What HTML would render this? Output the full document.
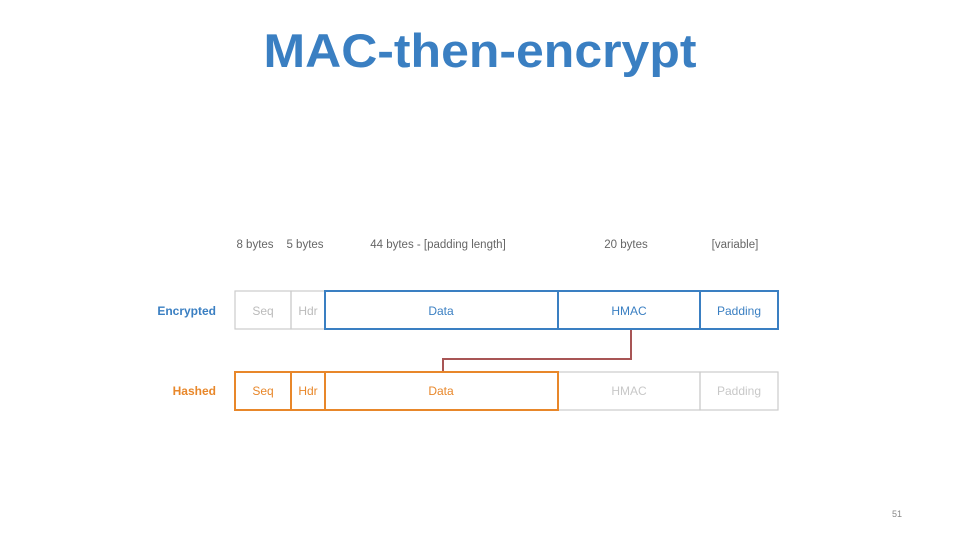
<!DOCTYPE html>
<html><head><meta charset="utf-8"><style>
html,body{margin:0;padding:0;background:#fff;}
svg{display:block;}
text{font-family:"Liberation Sans",sans-serif;}
</style></head><body>
<svg width="960" height="540" viewBox="0 0 960 540" xmlns="http://www.w3.org/2000/svg">
<text x="480" y="67" text-anchor="middle" font-size="47" font-weight="bold" fill="#3a7fc2" textLength="433" lengthAdjust="spacingAndGlyphs">MAC-then-encrypt</text>
<g font-size="11.5" fill="#666" text-anchor="middle">
<text x="255" y="248">8 bytes</text>
<text x="305" y="248">5 bytes</text>
<text x="438" y="248">44 bytes - [padding length]</text>
<text x="626" y="248">20 bytes</text>
<text x="735" y="248">[variable]</text>
</g>
<text x="216" y="315" font-size="12" font-weight="bold" fill="#3a7fc2" text-anchor="end">Encrypted</text>
<text x="216" y="395" font-size="12" font-weight="bold" fill="#e8872a" text-anchor="end">Hashed</text>
<!-- connector -->
<polyline points="631,329 631,359 443,359 443,372" fill="none" stroke="#a85555" stroke-width="2"/>
<!-- row1 -->
<g fill="none" stroke="#ccc" stroke-width="1.2">
<rect x="235" y="291" width="56" height="38"/>
<rect x="291" y="291" width="34" height="38"/>
<rect x="558" y="372" width="142" height="38"/>
<rect x="700" y="372" width="78" height="38"/>
</g>
<g fill="none" stroke="#3a7fc2" stroke-width="2">
<rect x="325" y="291" width="233" height="38"/>
<rect x="558" y="291" width="142" height="38"/>
<rect x="700" y="291" width="78" height="38"/>
</g>
<g fill="none" stroke="#e8872a" stroke-width="2">
<rect x="235" y="372" width="56" height="38"/>
<rect x="291" y="372" width="34" height="38"/>
<rect x="325" y="372" width="233" height="38"/>
</g>
<g font-size="12" text-anchor="middle">
<text x="263" y="315" fill="#bbb">Seq</text>
<text x="308" y="315" fill="#bbb">Hdr</text>
<text x="441" y="315" fill="#3a7fc2">Data</text>
<text x="629" y="315" fill="#3a7fc2">HMAC</text>
<text x="739" y="315" fill="#3a7fc2">Padding</text>
<text x="263" y="395" fill="#e8872a">Seq</text>
<text x="308" y="395" fill="#e8872a">Hdr</text>
<text x="441" y="395" fill="#e8872a">Data</text>
<text x="629" y="395" fill="#c8c8c8">HMAC</text>
<text x="739" y="395" fill="#c8c8c8">Padding</text>
</g>
<text x="897" y="517" font-size="9" fill="#888" text-anchor="middle">51</text>
</svg>
</body></html>
